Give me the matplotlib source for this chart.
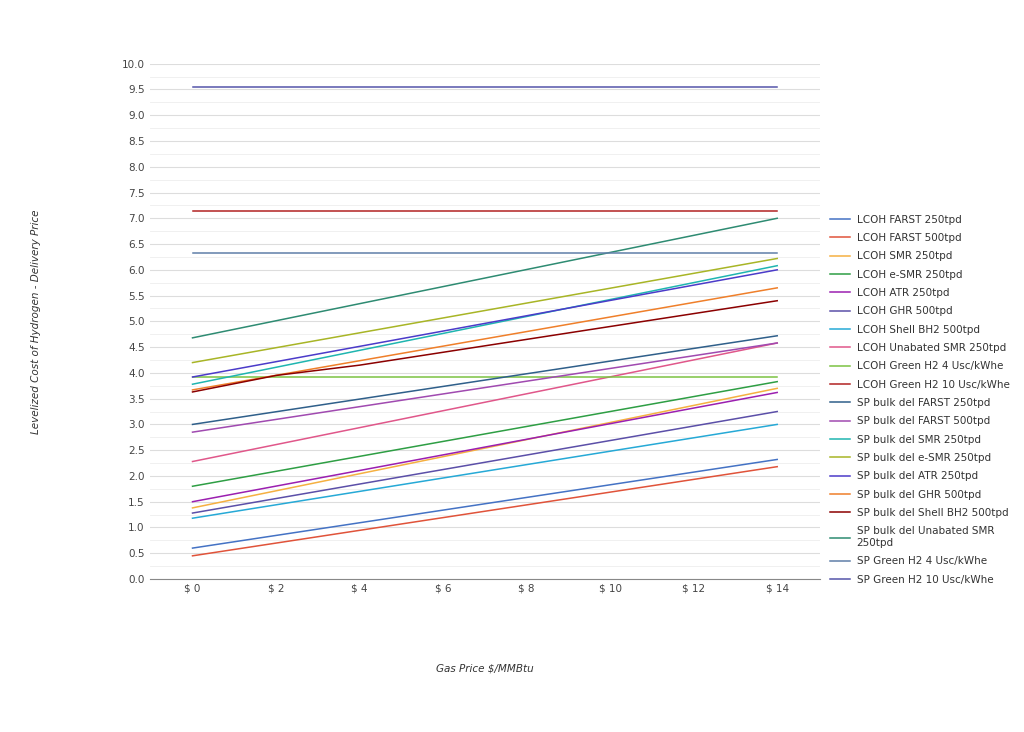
import matplotlib
matplotlib.use("Agg")
import matplotlib.pyplot as plt
import numpy as np

gas_price = [0, 14]

names = [
    "LCOH FARST 250tpd", "LCOH FARST 500tpd", "LCOH SMR 250tpd", "LCOH e-SMR 250tpd",
    "LCOH ATR 250tpd", "LCOH GHR 500tpd", "LCOH Shell BH2 500tpd",
    "LCOH Unabated SMR 250tpd", "LCOH Green H2 4 Usc/kWhe", "LCOH Green H2 10 Usc/kWhe",
    "SP bulk del FARST 250tpd", "SP bulk del FARST 500tpd", "SP bulk del SMR 250tpd",
    "SP bulk del e-SMR 250tpd", "SP bulk del ATR 250tpd", "SP bulk del GHR 500tpd",
    "SP bulk del Shell BH2 500tpd", "SP bulk del Unabated SMR\n250tpd",
    "SP Green H2 4 Usc/kWhe", "SP Green H2 10 Usc/kWhe",
]
colors = [
    "#4472c4", "#e0533a", "#f5b041", "#2e9e44", "#9b1fb0", "#5b4fa8", "#26a9d6",
    "#e0578a", "#7cc242", "#b22222", "#2f5f8a", "#a04ab0", "#1fb5b0", "#a8b526",
    "#4b3bc9", "#ef7f2a", "#8b0000", "#2e8b72", "#5f7fa8", "#5555aa",
]
# start (gas $0) and end (gas $14) values
start_vals = [0.60, 0.45, 1.38, 1.80, 1.50, 1.28, 1.18, 2.28, 3.92, 7.15,
              3.00, 2.85, 3.78, 4.20, 3.92, 3.67, 3.63, 4.68, 6.32, 9.55]
end_vals = [2.32, 2.18, 3.70, 3.83, 3.62, 3.25, 3.00, 4.58, 3.92, 7.15,
            4.72, 4.58, 6.08, 6.22, 6.00, 5.65, 5.40, 7.00, 6.32, 9.55]
# Shell BH2 delivered line has a visible kink
shell_x = [0, 2, 4, 14]
shell_y = [3.63, 3.95, 4.15, 5.40]

fig = plt.figure(figsize=(10.24, 7.32), dpi=100)
ax = fig.add_axes([0.146, 0.209, 0.655, 0.704])
for i, (n, c) in enumerate(zip(names, colors)):
    if i == 16:
        ax.plot(shell_x, shell_y, color=c, lw=1.1, label=n)
    else:
        ax.plot(gas_price, [start_vals[i], end_vals[i]], color=c, lw=1.1, label=n)

ax.set_xlim(-1.03, 15.03)
ax.set_ylim(0, 10)
ax.set_xticks(range(0, 15, 2))
ax.set_xticklabels([f"$ {v}" for v in range(0, 15, 2)], fontsize=7.5, color="#444444")
ax.set_yticks(np.arange(0, 10.01, 0.5))
ax.set_yticklabels([f"{v:.1f}" for v in np.arange(0, 10.01, 0.5)], fontsize=7.5, color="#444444")
ax.set_yticks(np.arange(0.25, 10, 0.5), minor=True)
ax.grid(True, axis="y", which="major", color="#dddddd", lw=0.8)
ax.grid(True, axis="y", which="minor", color="#eeeeee", lw=0.6)
ax.set_axisbelow(True)
ax.tick_params(length=0, which="both")
for s in ["top", "right", "left"]:
    ax.spines[s].set_visible(False)
ax.spines["bottom"].set_color("#888888")
ax.set_xlabel("Gas Price $/MMBtu", fontsize=7.5, style="italic", color="#333333", labelpad=50)
ax.set_ylabel("Levelized Cost of Hydrogen - Delivery Price", fontsize=7.5, style="italic",
              color="#333333", labelpad=58)
ax.legend(loc="upper left", bbox_to_anchor=(1.0, 0.725), frameon=False, fontsize=7.5,
          handlelength=2.0, handletextpad=0.6, labelspacing=0.8, labelcolor="#333333")
fig.savefig("out.png")
